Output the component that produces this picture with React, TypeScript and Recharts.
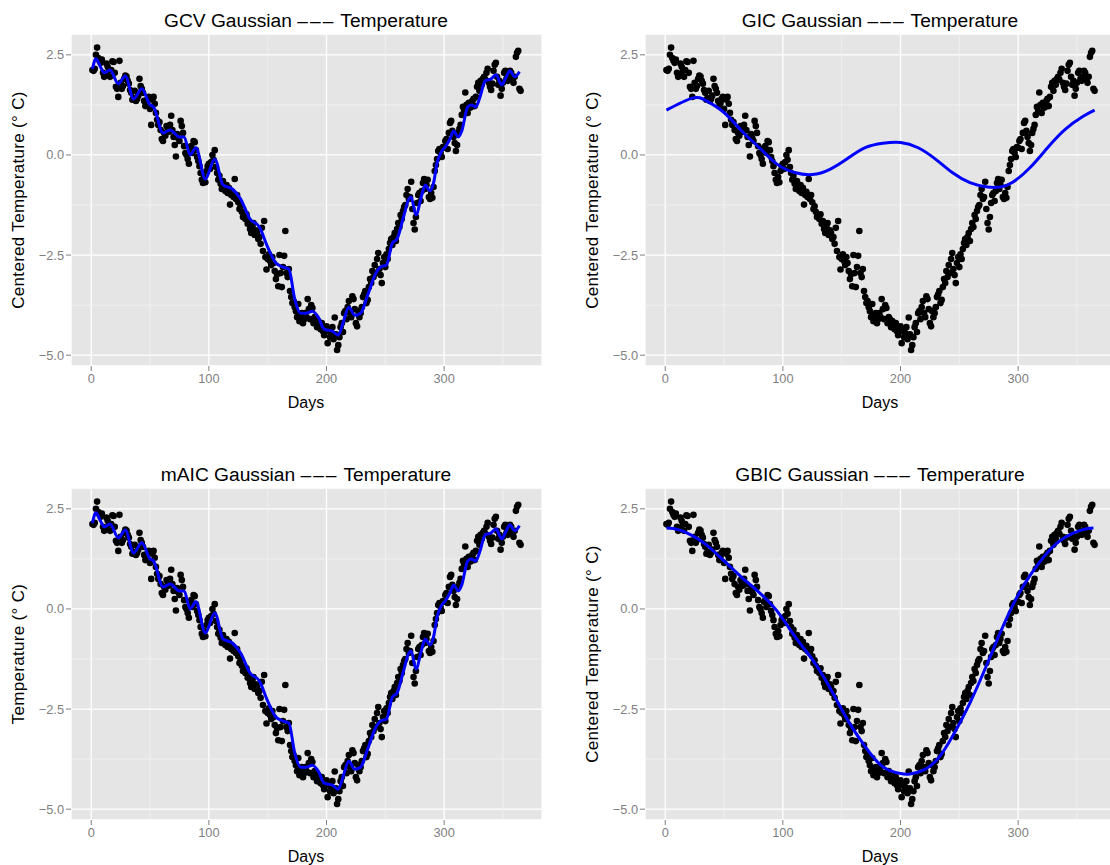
import { ComposedChart, Scatter, Line, XAxis, YAxis, CartesianGrid, ReferenceLine } from 'recharts';

// daily centered temperature, day 1..365
const temps: number[] = [
  2.12, 2.10, 2.15, 2.50, 2.68, 2.42, 2.35, 2.30, 2.38, 2.05,
  1.95, 2.00, 2.28, 2.20, 2.10, 1.95, 2.12, 2.34, 2.32, 2.05,
  1.70, 1.65, 1.45, 2.35, 1.80, 1.65, 1.72, 1.90, 1.98, 1.96,
  1.85, 1.78, 1.62, 1.55, 1.38, 1.42, 1.60, 1.35, 1.40, 1.48,
  1.90, 1.72, 1.65, 1.55, 1.35, 1.22, 1.30, 1.40, 1.45, 1.15,
  0.75, 1.38, 1.45, 1.28, 1.05, 0.88, 0.75, 0.82, 0.62, 0.40,
  0.35, 0.55, 0.48, 0.72, 0.68, 0.58, 0.75, 0.98, 0.62, 0.45,
  0.25, -0.04, 0.52, 0.42, 0.35, 0.85, 0.72, 0.55, 0.22, 0.05,
  0.00, -0.10, -0.22, 0.18, 0.22, 0.05, 0.35, 0.32, 0.12, -0.05,
  -0.15, -0.28, -0.45, -0.62, -0.70, -0.55, -0.68, -0.40, -0.28, -0.22,
  -0.35, -0.18, 0.00, -0.12, 0.12, -0.30, -0.45, -0.62, -0.52, -0.72,
  -0.85, -0.65, -0.78, -0.90, -0.75, -0.95, -0.82, -1.24, -1.00, -0.92,
  -1.05, -0.60, -1.10, -1.00, -1.18, -1.35, -1.28, -1.42, -1.55, -1.50,
  -1.60, -1.48, -1.72, -1.65, -1.85, -1.95, -1.78, -1.70, -2.00, -1.88,
  -1.95, -2.10, -2.05, -2.22, -1.82, -2.40, -1.65, -2.55, -2.86, -2.60,
  -2.48, -2.65, -2.75, -2.55, -2.70, -2.90, -3.10, -2.98, -3.28, -2.50,
  -2.95, -3.30, -2.80, -2.52, -1.90, -2.95, -3.05, -2.85, -3.40, -3.55,
  -3.70, -3.65, -3.80, -3.90, -4.05, -3.72, -4.15, -4.00, -3.95, -4.20,
  -4.10, -3.95, -4.05, -3.60, -3.85, -4.10, -3.75, -3.82, -4.20, -4.05,
  -4.10, -4.30, -4.15, -4.25, -4.35, -4.20, -4.40, -4.50, -4.32, -4.28,
  -4.70, -4.40, -4.55, -4.45, -4.30, -4.60, -4.06, -4.48, -4.87, -4.75,
  -4.55, -4.30, -4.20, -4.42, -3.95, -3.90, -4.10, -3.80, -3.65, -3.95,
  -4.05, -3.53, -3.60, -3.85, -4.20, -4.28, -3.90, -4.05, -3.95, -3.80,
  -3.55, -3.48, -3.40, -3.70, -3.62, -3.30, -3.10, -3.20, -2.90, -3.05,
  -2.75, -2.95, -2.60, -2.45, -2.85, -3.00, -3.20, -2.70, -2.55, -2.80,
  -2.48, -2.60, -2.35, -2.20, -2.10, -2.25, -2.05, -1.95, -2.15, -1.85,
  -1.70, -1.80, -1.50, -1.60, -1.40, -1.30, -1.25, -1.00, -0.85, -1.10,
  -1.05, -0.67, -1.35, -1.70, -1.86, -1.55, -1.20, -1.00, -0.95, -1.15,
  -0.90, -0.70, -0.60, -0.85, -0.75, -0.62, -1.05, -1.10, -0.95, -1.07,
  -0.80, -0.40, -0.25, -0.10, 0.10, 0.15, 0.05, -0.05, 0.20, 0.18,
  0.35, 0.40, 0.15, 0.55, 0.80, 0.85, 0.60, 0.45, 0.30, 0.10,
  0.25, 0.55, 0.65, 0.75, 1.00, 1.20, 1.10, 1.56, 1.25, 1.05,
  1.30, 1.18, 1.20, 1.35, 1.40, 1.22, 1.45, 1.70, 1.80, 1.60,
  1.85, 1.75, 1.90, 1.95, 1.88, 2.05, 2.15, 1.80, 1.70, 1.62,
  1.78, 2.10, 2.25, 2.30, 1.95, 1.75, 1.85, 1.48, 1.65, 1.80,
  2.05, 2.10, 1.90, 1.85, 1.95, 2.10, 2.05, 1.88, 1.80, 1.95,
  2.45, 2.55, 2.60, 1.65, 1.60,
];

// GCV / mAIC fit (same curve in both panels)
const gcvDays = [1, 4, 8, 11, 16, 23, 29, 36, 43, 50, 53, 61, 67, 75, 79, 84, 89, 97, 105, 112, 120, 127, 135, 143, 150, 157, 163, 168, 173, 178, 183, 188, 193, 198, 205, 210, 214, 219, 224, 229, 235, 242, 246, 251, 256, 260, 265, 270, 272, 276, 281, 284, 288, 291, 294, 298, 301, 305, 308, 312, 315, 320, 323, 327, 330, 335, 340, 344, 349, 352, 356, 360, 364];
const gcvFit = [2.15, 2.40, 2.19, 2.05, 2.12, 1.78, 1.97, 1.40, 1.65, 1.25, 1.20, 0.55, 0.62, 0.45, 0.45, 0.00, 0.18, -0.60, -0.10, -0.75, -0.85, -1.10, -1.60, -1.80, -2.30, -2.70, -2.80, -2.85, -3.60, -3.95, -3.95, -3.90, -4.05, -4.35, -4.40, -4.50, -4.20, -3.80, -4.00, -3.95, -3.50, -2.95, -2.80, -2.75, -2.20, -2.10, -1.60, -1.10, -1.05, -1.50, -1.00, -0.75, -0.90, -0.70, -0.20, 0.10, 0.20, 0.40, 0.60, 0.45, 0.60, 1.20, 1.25, 1.20, 1.40, 1.85, 1.90, 2.00, 1.75, 1.90, 2.10, 1.95, 2.08];

const gicDays = [1, 23, 35, 50, 65, 80, 95, 110, 125, 140, 155, 170, 185, 200, 215, 230, 244, 259, 274, 285, 295, 310, 325, 340, 355, 365];
const gicFit = [1.12, 1.42, 1.35, 1.06, 0.60, 0.18, -0.23, -0.44, -0.49, -0.36, -0.09, 0.18, 0.29, 0.31, 0.18, -0.11, -0.44, -0.69, -0.80, -0.80, -0.69, -0.32, 0.18, 0.64, 0.96, 1.12];

const gbicDays = [1, 11, 23, 35, 50, 65, 80, 95, 110, 125, 140, 155, 170, 185, 200, 208, 220, 232, 244, 259, 274, 286, 298, 310, 325, 340, 355, 364];
const gbicFit = [2.02, 1.98, 1.83, 1.60, 1.20, 0.79, 0.41, -0.05, -0.68, -1.26, -1.97, -2.77, -3.44, -3.94, -4.11, -4.12, -4.02, -3.73, -3.19, -2.35, -1.35, -0.51, 0.24, 0.83, 1.41, 1.79, 1.98, 2.02];

const xTicks = [0, 100, 200, 300];
const xMinor = [50, 150, 250, 350];
const yTicks = [-5, -2.5, 0, 2.5];
const yMinor = [-3.75, -1.25, 1.25];

const X_DOMAIN: [number, number] = [-17.2, 383.2];
const Y_DOMAIN: [number, number] = [-5.27, 3.02];

const points = temps.map((t, i) => ({ day: i + 1, temp: t }));
const toFit = (days: number[], vals: number[]) => days.map((d, i) => ({ day: d, fit: vals[i] }));

const FONT = '"Liberation Sans", Arial, Helvetica, sans-serif';
const fmtY = (v: number) => (v < 0 ? '\u2212' : '') + Math.abs(v).toFixed(1);

const W = 560;
const H = 420;
const M = { top: 34, right: 18, bottom: 24, left: 31 };
const X_H = 30;
const Y_W = 40;

type PanelProps = {
  left: number;
  top: number;
  method: string;
  yLabel: string;
  fit: { day: number; fit: number }[];
  curve: 'monotone' | 'natural';
};

function Panel({ left, top, method, yLabel, fit, curve }: PanelProps) {
  const textBase = { position: 'absolute' as const, fontFamily: FONT, color: '#000', whiteSpace: 'nowrap' as const };
  return (
    <div style={{ position: 'absolute', left, top, width: W, height: H }}>
      {/* background, grid, axes and points */}
      <div style={{ position: 'absolute', left: 0, top: 0 }}>
        <ComposedChart width={W} height={H} margin={M}>
          <CartesianGrid fill="#E5E5E5" stroke="#FFFFFF" strokeWidth={1.3} />
          {xMinor.map((d) => (
            <ReferenceLine key={'vx' + d} x={d} stroke="#F2F2F2" strokeWidth={0.8} />
          ))}
          {yMinor.map((v) => (
            <ReferenceLine key={'hy' + v} y={v} stroke="#F2F2F2" strokeWidth={0.8} />
          ))}
          <XAxis
            type="number"
            dataKey="day"
            domain={X_DOMAIN}
            ticks={xTicks}
            allowDataOverflow
            axisLine={false}
            tickLine={{ stroke: '#7F7F7F' }}
            tickSize={5}
            tickMargin={3}
            height={X_H}
            tick={{ fill: '#7F7F7F', fontSize: 12.8, fontFamily: FONT }}
          />
          <YAxis
            type="number"
            domain={Y_DOMAIN}
            ticks={yTicks}
            allowDataOverflow
            axisLine={false}
            tickLine={{ stroke: '#7F7F7F' }}
            tickSize={5}
            tickMargin={2}
            width={Y_W}
            tickFormatter={fmtY}
            tick={{ fill: '#7F7F7F', fontSize: 12.8, fontFamily: FONT }}
          />
          <Scatter
            data={points}
            dataKey="temp"
            isAnimationActive={false}
            shape={(p: any) => <circle cx={p.cx} cy={p.cy} r={3.3} fill="#000" />}
          />
        </ComposedChart>
      </div>
      {/* fitted curve on top of the points */}
      <div style={{ position: 'absolute', left: 0, top: 0 }}>
        <ComposedChart
          width={W}
          height={H}
          margin={{ top: M.top, right: M.right, bottom: M.bottom + X_H, left: M.left + Y_W }}
        >
          <XAxis type="number" dataKey="day" domain={X_DOMAIN} allowDataOverflow hide />
          <YAxis type="number" domain={Y_DOMAIN} allowDataOverflow hide />
          <Line
            data={fit}
            dataKey="fit"
            type={curve}
            stroke="#0000FF"
            strokeWidth={3}
            dot={false}
            activeDot={false}
            isAnimationActive={false}
          />
        </ComposedChart>
      </div>
      <div style={{ ...textBase, left: 306, top: 21, fontSize: 19.2, transform: 'translate(-50%, -50%)' }}>
        {method} Gaussian <span style={{ letterSpacing: 2 }}>–––</span> Temperature
      </div>
      <div style={{ ...textBase, left: 306, top: 403, fontSize: 16, transform: 'translate(-50%, -50%)' }}>Days</div>
      <div
        style={{
          ...textBase,
          left: 19,
          top: 200,
          fontSize: 17,
          letterSpacing: 0.3,
          transform: 'translate(-50%, -50%) rotate(-90deg)',
        }}
      >
        {yLabel}
      </div>
    </div>
  );
}

export default function App() {
  return (
    <div style={{ position: 'absolute', left: 0, top: 0, width: 1110, height: 865, overflow: 'hidden', background: '#fff' }}>
      <Panel left={0} top={0} method="GCV" yLabel="Centered Temperature (° C)" fit={toFit(gcvDays, gcvFit)} curve="monotone" />
      <Panel left={574} top={0} method="GIC" yLabel="Centered Temperature (° C)" fit={toFit(gicDays, gicFit)} curve="natural" />
      <Panel left={0} top={454} method="mAIC" yLabel="Temperature (° C)" fit={toFit(gcvDays, gcvFit)} curve="monotone" />
      <Panel left={574} top={454} method="GBIC" yLabel="Centered Temperature (° C)" fit={toFit(gbicDays, gbicFit)} curve="natural" />
    </div>
  );
}
